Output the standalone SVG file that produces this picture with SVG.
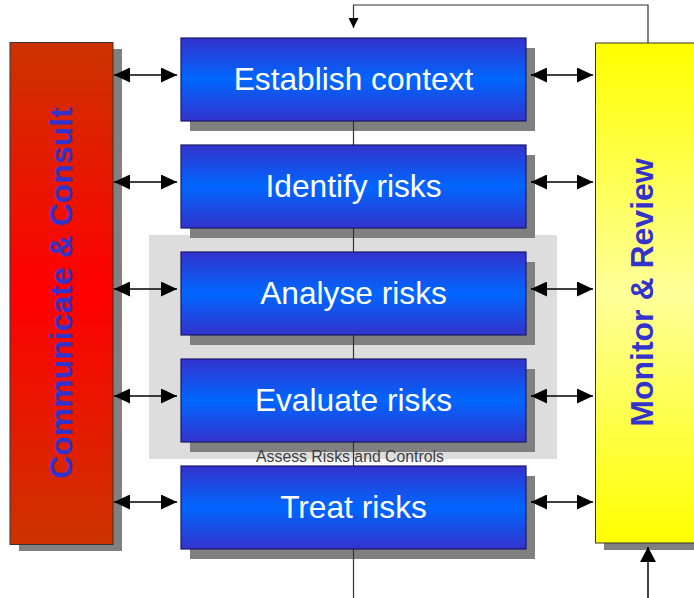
<svg xmlns="http://www.w3.org/2000/svg" width="694" height="598" viewBox="0 0 694 598">
<style>
.shadow{fill:#808080}
.step{stroke:#1a1a66;stroke-width:1.2}
.steptext{font-family:"Liberation Sans",Arial,sans-serif;font-size:31.7px;fill:#ffffff;text-anchor:middle}
.sidetext{font-family:"Liberation Sans",Arial,sans-serif;font-size:32px;font-weight:bold;fill:#3333cc;text-anchor:middle}
.line{stroke:#333333;stroke-width:1.2;fill:none}
.dbl{stroke:#000000;stroke-width:1.5;fill:none;marker-start:url(#head);marker-end:url(#head)}
</style>
<defs>
<linearGradient id="gBlue" x1="0" y1="0" x2="0" y2="1">
<stop offset="0" stop-color="#3333cc"/>
<stop offset="0.5" stop-color="#0066ff"/>
<stop offset="1" stop-color="#3333cc"/>
</linearGradient>
<linearGradient id="gRed" x1="0" y1="0" x2="0" y2="1">
<stop offset="0" stop-color="#cc3300"/>
<stop offset="0.5" stop-color="#ff0000"/>
<stop offset="1" stop-color="#cc3300"/>
</linearGradient>
<linearGradient id="gYellow" x1="0" y1="0" x2="0" y2="1">
<stop offset="0" stop-color="#ffff00"/>
<stop offset="0.5" stop-color="#ffff99"/>
<stop offset="1" stop-color="#ffff00"/>
</linearGradient>
<marker id="head" markerUnits="userSpaceOnUse" markerWidth="16" markerHeight="15" refX="16" refY="7.5" orient="auto-start-reverse" viewBox="0 0 16 15">
<path d="M0,0 L16,7.5 L0,15 z" fill="#000000"/>
</marker>
<marker id="headSmall" markerUnits="userSpaceOnUse" markerWidth="10" markerHeight="10" refX="10" refY="5" orient="auto" viewBox="0 0 10 10">
<path d="M0,0 L10,5 L0,10 z" fill="#000000"/>
</marker>
<marker id="headUp" markerUnits="userSpaceOnUse" markerWidth="15" markerHeight="16" refX="15" refY="8" orient="auto" viewBox="0 0 15 16">
<path d="M0,0 L15,8 L0,16 z" fill="#000000"/>
</marker>
</defs>
<rect width="694" height="598" fill="#ffffff"/>

<g id="assess">
<rect x="149" y="235" width="408" height="224" fill="#dddddd"/>
</g>

<g id="communicate">
<rect class="shadow" x="19" y="49" width="103" height="502"/>
<rect x="10" y="42.5" width="103" height="502" fill="url(#gRed)" stroke="#333333" stroke-width="1"/>
<text class="sidetext" transform="translate(72,293) rotate(-90)">Communicate &amp; Consult</text>
</g>

<g id="monitor">
<rect class="shadow" x="604" y="50" width="100" height="500"/>
<rect x="595.5" y="43" width="110" height="500" fill="url(#gYellow)" stroke="#333333" stroke-width="1"/>
<text class="sidetext" transform="translate(653,292.5) rotate(-90)">Monitor &amp; Review</text>
</g>

<g id="establish">
<rect class="shadow" x="190" y="48" width="345" height="83"/>
</g>
<g id="identify">
<rect class="shadow" x="190" y="155" width="345" height="83"/>
</g>
<g id="analyse">
<rect class="shadow" x="190" y="262" width="345" height="83"/>
</g>
<g id="evaluate">
<rect class="shadow" x="190" y="369" width="345" height="83"/>
</g>
<g id="treat">
<rect class="shadow" x="190" y="476" width="345" height="83"/>
</g>

<g id="connectors">
<path class="line" d="M648,43 V5 H353.5 V28" marker-end="url(#headSmall)"/>
<line class="line" x1="353.5" y1="121" x2="353.5" y2="145"/>
<line class="line" x1="353.5" y1="228" x2="353.5" y2="252"/>
<line class="line" x1="353.5" y1="335" x2="353.5" y2="359"/>
<line class="line" x1="353.5" y1="442" x2="353.5" y2="466"/>
<line class="line" x1="353.5" y1="549" x2="353.5" y2="598"/>
<line class="line" x1="648" y1="598" x2="648" y2="547" marker-end="url(#headUp)" style="stroke:#000000;stroke-width:1.5"/>
<line class="dbl" x1="114" y1="75" x2="177" y2="75"/>
<line class="dbl" x1="114" y1="182" x2="177" y2="182"/>
<line class="dbl" x1="114" y1="289" x2="177" y2="289"/>
<line class="dbl" x1="114" y1="396" x2="177" y2="396"/>
<line class="dbl" x1="114" y1="502" x2="177" y2="502"/>
<line class="dbl" x1="531" y1="75" x2="593" y2="75"/>
<line class="dbl" x1="531" y1="182" x2="593" y2="182"/>
<line class="dbl" x1="531" y1="289" x2="593" y2="289"/>
<line class="dbl" x1="531" y1="396" x2="593" y2="396"/>
<line class="dbl" x1="531" y1="502" x2="593" y2="502"/>
</g>

<g id="establish-box">
<rect class="step" x="181" y="38" width="345" height="83" fill="url(#gBlue)"/>
<text class="steptext" x="353.5" y="90">Establish context</text>
</g>
<g id="identify-box">
<rect class="step" x="181" y="145" width="345" height="83" fill="url(#gBlue)"/>
<text class="steptext" x="353.5" y="197">Identify risks</text>
</g>
<g id="analyse-box">
<rect class="step" x="181" y="252" width="345" height="83" fill="url(#gBlue)"/>
<text class="steptext" x="353.5" y="304">Analyse risks</text>
</g>
<g id="evaluate-box">
<rect class="step" x="181" y="359" width="345" height="83" fill="url(#gBlue)"/>
<text class="steptext" x="353.5" y="411">Evaluate risks</text>
</g>
<g id="treat-box">
<rect class="step" x="181" y="466" width="345" height="83" fill="url(#gBlue)"/>
<text class="steptext" x="353.5" y="518">Treat risks</text>
</g>

<g id="assess-label">
<text x="350" y="462" font-family="'Liberation Sans',Arial,sans-serif" font-size="15.8" fill="#404040" text-anchor="middle">Assess Risks and Controls</text>
</g>
</svg>
